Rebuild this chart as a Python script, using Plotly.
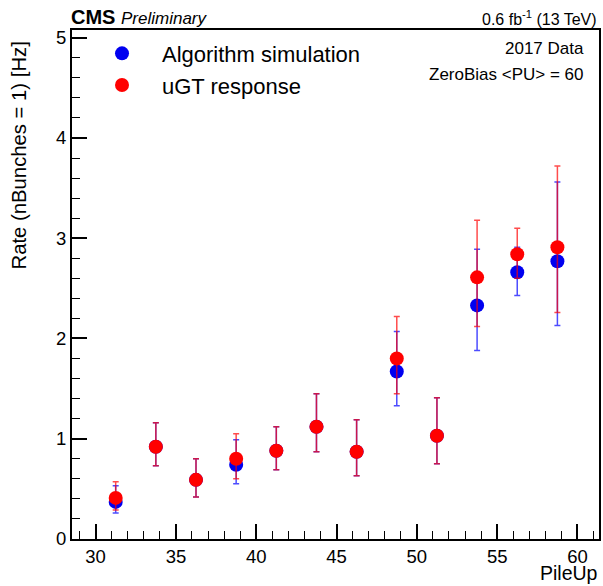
import plotly.graph_objs as go

FONT = "Liberation Sans, Arial, sans-serif"

pileup = [31.25, 33.75, 36.25, 38.75, 41.25, 43.75,
          46.25, 48.75, 51.25, 53.75, 56.25, 58.75]

# Algorithm simulation (blue)
sim_rate = [0.37, 0.92, 0.59, 0.74, 0.88, 1.12, 0.87, 1.67, 1.03, 2.33, 2.66, 2.77]
sim_err_up = [0.16, 0.24, 0.21, 0.25, 0.24, 0.33, 0.32, 0.40, 0.38, 0.56, 0.25, 0.79]
sim_err_down = [0.11, 0.19, 0.17, 0.19, 0.19, 0.25, 0.24, 0.34, 0.28, 0.45, 0.23, 0.64]

# uGT response (red)
ugt_rate = [0.41, 0.92, 0.59, 0.80, 0.88, 1.12, 0.87, 1.80, 1.03, 2.61, 2.84, 2.91]
ugt_err_up = [0.16, 0.24, 0.21, 0.25, 0.24, 0.33, 0.32, 0.42, 0.38, 0.57, 0.26, 0.81]
ugt_err_down = [0.12, 0.19, 0.17, 0.20, 0.19, 0.25, 0.24, 0.35, 0.28, 0.49, 0.24, 0.65]


def make_trace(name, y, up, down, color, err_color):
    return go.Scatter(
        x=pileup, y=y, name=name, mode='markers',
        marker=dict(color=color, size=14, line=dict(width=0)),
        error_y=dict(type='data', symmetric=False, array=up, arrayminus=down,
                     color=err_color, thickness=1.5, width=3),
    )


def axis(rng, dtick, minor_dtick):
    return dict(
        range=rng, dtick=dtick, showgrid=False, zeroline=False,
        showline=True, linecolor='black', linewidth=2, mirror=True,
        ticks='inside', ticklen=15, tickwidth=1.5, tickcolor='black',
        minor=dict(ticks='inside', ticklen=8, dtick=minor_dtick,
                   tickwidth=1, tickcolor='black'),
        tickfont=dict(family=FONT, size=18.5, color='black'),
    )


data = [
    make_trace('Algorithm simulation', sim_rate, sim_err_up, sim_err_down,
               'rgb(0,0,240)', 'rgba(0,0,255,0.7)'),
    make_trace('uGT response', ugt_rate, ugt_err_up, ugt_err_down,
               'rgb(255,0,0)', 'rgba(255,0,0,0.7)'),
]

layout = go.Layout(
    width=603, height=586,
    margin=dict(l=72, r=1.5, t=30, b=47),
    paper_bgcolor='white', plot_bgcolor='white',
    font=dict(family=FONT, color='black'),
    xaxis=axis([28.53, 61.34], 5, 1),
    yaxis=axis([0, 5.077], 1, 0.2),
    legend=dict(x=0.019, y=0.995, xanchor='left', yanchor='top',
                itemwidth=70, tracegroupgap=4,
                bgcolor='rgba(0,0,0,0)', font=dict(family=FONT, size=22)),
    annotations=[
        dict(x=-0.005, y=1, xref='paper', yref='paper', xanchor='left', yanchor='bottom',
             text='<b>CMS</b> <i><span style="font-size:17px">Preliminary</span></i>',
             font=dict(size=20), showarrow=False),
        dict(x=1, y=1, xref='paper', yref='paper', xanchor='right', yanchor='bottom',
             text='0.6 fb<sup>-1</sup> (13 TeV)', font=dict(size=16), showarrow=False),
        dict(x=0.976, y=0.963, xref='paper', yref='paper', xanchor='right', yanchor='middle',
             text='2017 Data', font=dict(size=17), showarrow=False),
        dict(x=0.976, y=0.912, xref='paper', yref='paper', xanchor='right', yanchor='middle',
             text='ZeroBias &lt;PU&gt; = 60', font=dict(size=17), showarrow=False),
        dict(x=-0.1, y=0.982, xref='paper', yref='paper', xanchor='center', yanchor='top',
             text='Rate (nBunches = 1) [Hz]', textangle=-90, font=dict(size=20.3),
             showarrow=False),
        dict(x=1, y=-0.066, xref='paper', yref='paper', xanchor='right', yanchor='middle',
             text='PileUp', font=dict(size=19.5), borderpad=0, showarrow=False),
    ],
)

fig = go.Figure(data=data, layout=layout)
fig.write_html("out.html", config={'displayModeBar': False},
               post_script="document.body.style.margin='0';")
